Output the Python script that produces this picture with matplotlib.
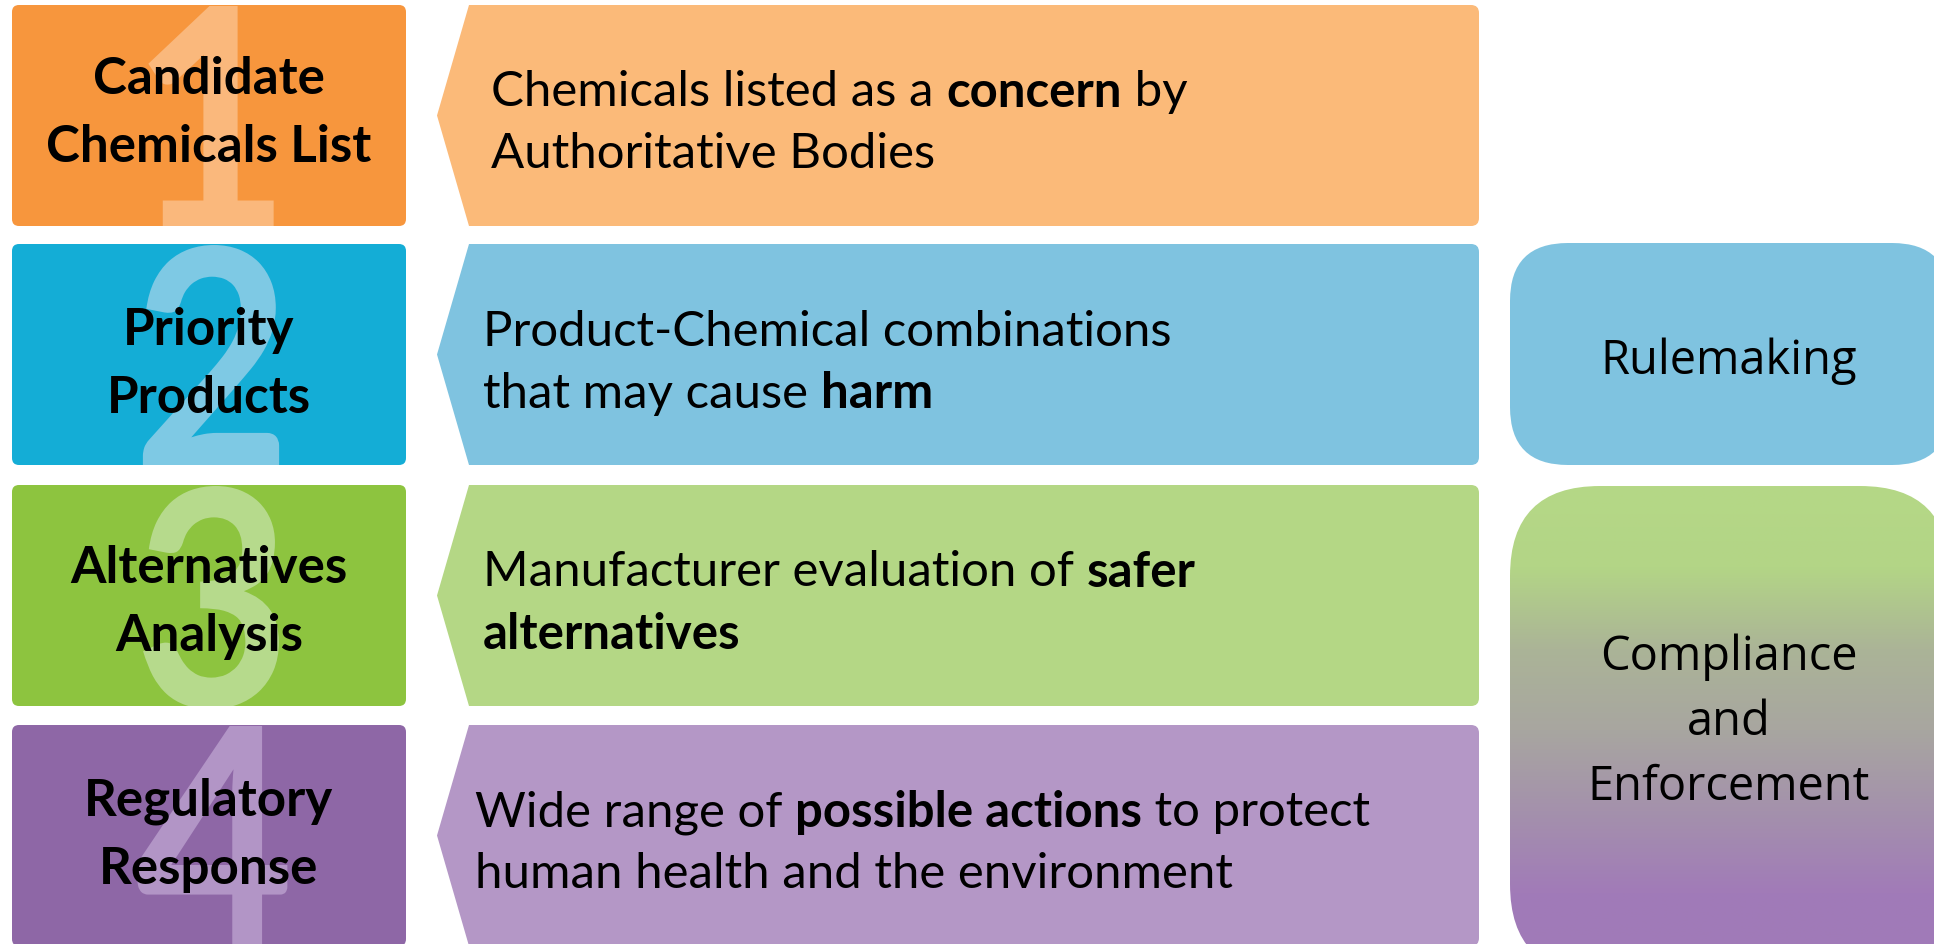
#!/usr/bin/env python3
import matplotlib
matplotlib.use("Agg")
import matplotlib.pyplot as plt
import numpy as np
from matplotlib.colors import LinearSegmentedColormap
from matplotlib.font_manager import FontProperties
from matplotlib.patches import FancyBboxPatch, PathPatch
from matplotlib.path import Path
from matplotlib.textpath import TextPath
from matplotlib.transforms import Affine2D

W, H = 1934, 945

step_labels = [
    ["Candidate", "Chemicals List"],
    ["Priority", "Products"],
    ["Alternatives", "Analysis"],
    ["Regulatory", "Response"],
]
step_numbers = ["1", "2", "3", "4"]
box_colors = ["#F7963D", "#14ADD6", "#8DC43F", "#8E67A6"]
number_colors = ["#FAB87C", "#7EC9E4", "#B6DA8C", "#B295C6"]
arrow_colors = ["#FBBA79", "#7FC3E0", "#B4D785", "#B497C6"]

# each description: lines, each line a list of (text, bold)
descriptions = [
    [[("Chemicals listed as a ", False), ("concern", True), (" by", False)],
     [("Authoritative Bodies", False)]],
    [[("Product-Chemical combinations", False)],
     [("that may cause ", False), ("harm", True)]],
    [[("Manufacturer evaluation of ", False), ("safer", True)],
     [("alternatives", True)]],
    [[("Wide range of ", False), ("possible actions", True), (" to protect", False)],
     [("human health and the environment", False)]],
]
desc_x = [491, 483, 483, 475]

side_labels = [["Rulemaking"], ["Compliance", "and", "Enforcement"]]
rulemaking_color = "#7FC3E0"
compliance_stops = ["#B5D886", "#B3D586", "#ABB497", "#A8A6A0", "#A491AC", "#A17BB8", "#A07AB8"]

# layout (pixels, y down)
row_tops = [6, 245, 486, 726]
row_h = 221
label_dy = [-3, 9, 6, -1]
box_x0, box_x1 = 12, 406
tip_x, shoulder_x, arrow_x1 = 437, 469, 1479
side_x0, side_x1 = 1510, 1950

fig = plt.figure(figsize=(W / 100, H / 100), dpi=100)
ax = fig.add_axes([0, 0, 1, 1])
ax.set_xlim(0, W)
ax.set_ylim(H, 0)
ax.axis("off")
renderer = fig.canvas.get_renderer()

FONT = "Lato"


def text_width(s, prop):
    # measure with sentinels so leading/trailing spaces count
    w_s, _, _ = renderer.get_text_width_height_descent("|" + s + "|", prop, ismath=False)
    w_b, _, _ = renderer.get_text_width_height_descent("||", prop, ismath=False)
    return w_s - w_b


def draw_rich(x, y, parts, size):
    for text, bold in parts:
        prop = FontProperties(family=FONT, size=size, weight="bold" if bold else "normal")
        ax.text(x, y, text, fontproperties=prop, ha="left", va="center", color="black")
        x += text_width(text, prop)


def arrow_path(top, bottom, r=8):
    mid = (top + bottom) / 2
    verts = [
        (tip_x, mid), (shoulder_x, top), (arrow_x1 - r, top),
        (arrow_x1, top), (arrow_x1, top + r),
        (arrow_x1, bottom - r),
        (arrow_x1, bottom), (arrow_x1 - r, bottom),
        (shoulder_x, bottom), (tip_x, mid),
    ]
    codes = [Path.MOVETO, Path.LINETO, Path.LINETO,
             Path.CURVE3, Path.CURVE3,
             Path.LINETO,
             Path.CURVE3, Path.CURVE3,
             Path.LINETO, Path.CLOSEPOLY]
    return Path(verts, codes)


def big_digit(s, cx, top, bottom, color, clip):
    tp = TextPath((0, 0), s, size=1, prop=FontProperties(family=FONT, weight="bold"))
    bb = tp.get_extents()
    k = (bottom - top) / bb.height
    tr = (Affine2D().translate(-(bb.x0 + bb.width / 2), -bb.y0)
          .scale(k * 0.9, -k).translate(cx, bottom))
    patch = PathPatch(tr.transform_path(tp), facecolor=color, edgecolor="none")
    ax.add_patch(patch)
    patch.set_clip_path(clip)


for i, top in enumerate(row_tops):
    bottom = top + row_h
    cy = top + row_h / 2

    box = FancyBboxPatch((box_x0, top), box_x1 - box_x0, row_h,
                         boxstyle="round,pad=0,rounding_size=7",
                         facecolor=box_colors[i], edgecolor="none")
    ax.add_patch(box)
    big_digit(step_numbers[i], 211, top + 1, bottom + 3, number_colors[i], box)

    gap = 68
    n = len(step_labels[i])
    for j, line in enumerate(step_labels[i]):
        ax.text((box_x0 + box_x1) / 2, cy + label_dy[i] + (j - (n - 1) / 2) * gap, line,
                fontfamily=FONT, fontweight="bold", fontsize=36.8,
                color="black", ha="center", va="center")

    ax.add_patch(PathPatch(arrow_path(top, bottom), facecolor=arrow_colors[i],
                           edgecolor="none"))
    lines = descriptions[i]
    gap = 62
    for j, parts in enumerate(lines):
        draw_rich(desc_x[i], cy + 7 + (j - (len(lines) - 1) / 2) * gap, parts, 35.4)

# right side boxes
rule_top, rule_bot = 244, 466
ax.add_patch(FancyBboxPatch((side_x0, rule_top), side_x1 - side_x0, rule_bot - rule_top,
                            boxstyle="round,pad=0,rounding_size=58",
                            facecolor=rulemaking_color, edgecolor="none"))

comp_top, comp_bot = 487, 975
comp = FancyBboxPatch((side_x0, comp_top), side_x1 - side_x0, comp_bot - comp_top,
                      boxstyle="round,pad=0,rounding_size=90",
                      facecolor="none", edgecolor="none")
ax.add_patch(comp)
cmap = LinearSegmentedColormap.from_list("comp", compliance_stops)
grad = np.linspace(0, 1, 256).reshape(-1, 1)
img = ax.imshow(grad, cmap=cmap, aspect="auto", origin="upper",
                extent=(side_x0, side_x1, comp_bot, comp_top), interpolation="bilinear")
img.set_clip_path(comp)

side_cx = 1729
side_centers = [361, 722]
for k, lines in enumerate(side_labels):
    n = len(lines)
    for j, line in enumerate(lines):
        ax.text(side_cx, side_centers[k] + (j - (n - 1) / 2) * 65, line,
                fontfamily="Open Sans", fontsize=33.8, color="black",
                ha="center", va="center")

ax.set_xlim(0, W)
ax.set_ylim(H, 0)
fig.savefig("out.png", dpi=100)
